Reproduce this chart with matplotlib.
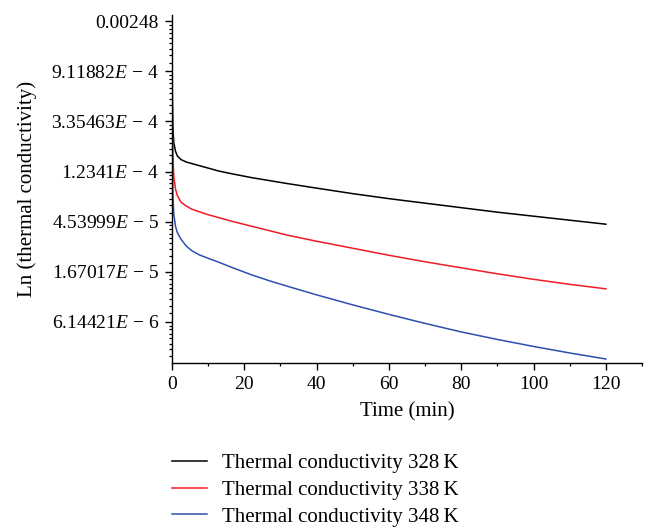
import numpy as np
import matplotlib
matplotlib.use("Agg")
import matplotlib.pyplot as plt
from matplotlib.ticker import FixedLocator, FuncFormatter, MultipleLocator

plt.rcParams['font.family'] = ['Liberation Serif', 'DejaVu Serif']
plt.rcParams['mathtext.fontset'] = 'custom'
plt.rcParams['mathtext.rm'] = 'Liberation Serif'
plt.rcParams['mathtext.it'] = 'Liberation Serif:italic'

# time in minutes and ln(thermal conductivity)
time = [0, 0.1, 0.25, 0.5, 1, 1.5, 2.5, 4, 5.5, 7.5, 10, 13, 17, 22, 27, 32,
        40, 50, 60, 70, 80, 90, 100, 110, 120]
ln_328 = [-5.88, -7.4, -8.1, -8.42, -8.6, -8.69, -8.76, -8.81, -8.84, -8.88,
          -8.93, -8.99, -9.05, -9.12, -9.18, -9.24, -9.33, -9.44, -9.54, -9.63,
          -9.72, -9.81, -9.89, -9.97, -10.05]
ln_338 = [-5.88, -7.9, -8.7, -9.1, -9.36, -9.48, -9.61, -9.69, -9.75, -9.80,
          -9.86, -9.92, -10.0, -10.09, -10.18, -10.27, -10.39, -10.53, -10.67, -10.80,
          -10.92, -11.04, -11.15, -11.25, -11.34]
ln_348 = [-5.88, -8.3, -9.45, -9.85, -10.1, -10.22, -10.35, -10.49, -10.58, -10.66,
          -10.73, -10.81, -10.925, -11.06, -11.18, -11.29, -11.46, -11.66, -11.85, -12.03,
          -12.20, -12.35, -12.49, -12.62, -12.74]

series = [
    ("Thermal conductivity 328\u2009K", ln_328, "black"),
    ("Thermal conductivity 338\u2009K", ln_338, "#ee1c25"),
    ("Thermal conductivity 348\u2009K", ln_348, "#2d4fae"),
]

y_majors = [-6, -7, -8, -9, -10, -11, -12]


def ln_label(v, pos):
    val = np.exp(v)
    if round(v) == -6:
        return "%.5f" % val
    mant, exp = ("%.5E" % val).split("E")
    mant = mant.rstrip("0").rstrip(".")
    return "%s$E$ \u2212 %d" % (mant, -int(exp))


fig = plt.figure(figsize=(6.47, 5.27), dpi=100)
ax = fig.add_axes([0.2658, 0.3112, 0.7265, 0.6603])

for label, vals, color in series:
    ax.plot(time, vals, color=color, lw=1.1, label=label)

ax.set_xlim(0, 130)
ax.set_ylim(-12.82, -5.875)

ax.xaxis.set_major_locator(FixedLocator([0, 20, 40, 60, 80, 100, 120]))
ax.xaxis.set_minor_locator(MultipleLocator(10))
ax.yaxis.set_major_locator(FixedLocator(y_majors))
ax.yaxis.set_major_formatter(FuncFormatter(ln_label))

# minor ticks: 8 per interval, evenly spaced in the value itself
minors = []
for n in range(-13, -5):
    for k in range(1, 9):
        minors.append(n + np.log(1 + k * (np.e - 1) / 9))
ax.yaxis.set_minor_locator(FixedLocator(minors))

ax.spines['top'].set_visible(False)
ax.spines['right'].set_visible(False)
for s in ['left', 'bottom']:
    ax.spines[s].set_linewidth(1.0)

ax.tick_params(which='major', direction='out', length=5, width=1.0, labelsize=14, pad=4.5)
ax.tick_params(which='minor', direction='out', length=2.5, width=0.9)

ax.set_xlabel("Time (min)", fontsize=15)
ax.set_ylabel("Ln (thermal conductivity)", fontsize=15)
ax.xaxis.set_label_coords(0.5, -0.112)
ax.yaxis.set_label_coords(-0.288, 0.5)

fig.legend(loc='upper left', bbox_to_anchor=(0.2658, 0.139), frameon=False,
           fontsize=15, handlelength=1.68, handletextpad=0.72,
           labelspacing=0.34, borderpad=0, borderaxespad=0)

fig.savefig("out.png", dpi=100)
